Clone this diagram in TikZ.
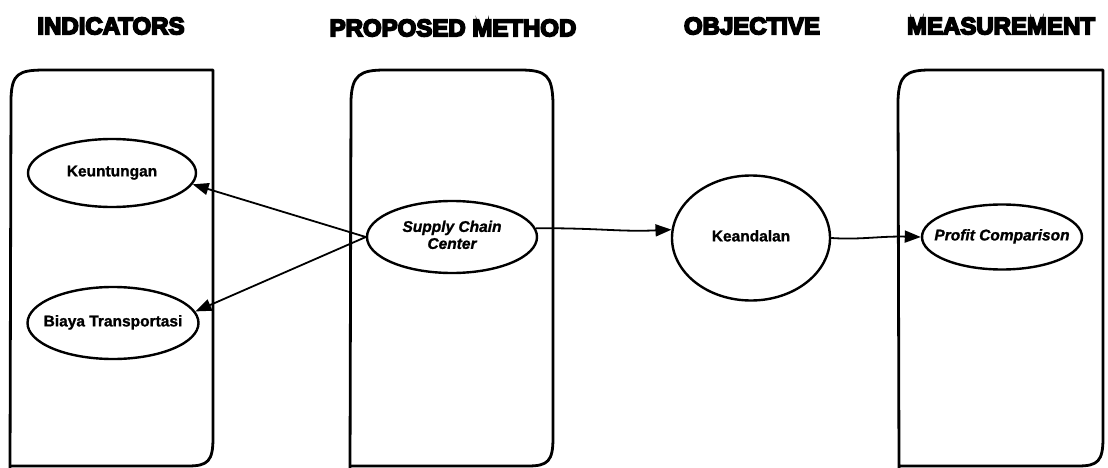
\documentclass[tikz,border=0pt]{standalone}
\usepackage{fontspec}
\setmainfont{Liberation Sans}
\newfontfamily\titlefont{Liberation Sans}[UprightFont={* Bold}, FakeBold=7]
\newfontfamily\labelfont{Liberation Sans}[UprightFont={* Bold}, ItalicFont={* Bold Italic}, FakeBold=1.2]
\usetikzlibrary{shapes.geometric,arrows.meta}
\newcommand{\ovaltext}[1]{\makebox[0pt]{\begin{tabular}{@{}c@{}}#1\end{tabular}}}
\begin{document}
\begin{tikzpicture}[x=1pt,y=-1pt,
  boxline/.style={line width=2.8pt, line join=round, line cap=round},
  oval/.style={ellipse, draw, line width=2.4pt, inner sep=0pt, font=\labelfont\fontsize{15.5}{17}\selectfont},
  ital/.style={font=\labelfont\itshape\fontsize{15.5}{17}\selectfont},
  heading/.style={font=\titlefont\fontsize{24}{28}\selectfont, inner sep=0pt},
  conn/.style={line width=1.8pt, -{Triangle[length=16pt,width=12pt]}}]
\useasboundingbox (0,0) rectangle (1108,468);
% headings
\node[heading] (h1) at (111,26) {INDICATORS};
\node[heading] (h2) at (453,28) {PROPOSED METHOD};
\node[heading] (h3) at (752,26) {OBJECTIVE};
\node[heading] (h4) at (1001,26) {MEASUREMENT};
% boxes
\draw[boxline] (10,470) -- (11,98) .. controls (12,74) and (18,70) .. (45,70) -- (213,70) -- (213,438) .. controls (213,461) and (208,466) .. (188,466) -- (12,466);
\draw[boxline] (350,470) -- (351,100) .. controls (352,75) and (360,70) .. (385,70) -- (520,70) .. controls (547,70) and (552,76) .. (553,102) -- (553,438) .. controls (553,461) and (548,466) .. (528,466) -- (352,466);
\draw[boxline] (899,470) -- (898,100) .. controls (899,76) and (905,70) .. (930,70) -- (1103,70) -- (1103,438) .. controls (1103,461) and (1098,466) .. (1078,466) -- (900,466);
% nodes
\node[oval, minimum width=168pt, minimum height=68pt] (k) at (112,173) {\ovaltext{Keuntungan}};
\node[oval, minimum width=171pt, minimum height=72pt] (b) at (113,323) {\ovaltext{Biaya Transportasi}};
\node[oval, ital, minimum width=170pt, minimum height=72pt] (sc) at (452,237) {\ovaltext{Supply Chain\\Center}};
\node[oval, minimum width=158pt, minimum height=125pt] (kd) at (751,238) {\ovaltext{Keandalan}};
\node[oval, ital, minimum width=160pt, minimum height=65pt] (pc) at (1002,237) {\ovaltext{Profit Comparison}};
% connectors
\draw[conn] (sc.west) -- (k.-8);
\draw[conn] (sc.west) -- (b.8);
\draw[conn] (sc.6) .. controls (600,228) and (620,232) .. (kd.174);
\draw[conn] (kd.east) .. controls (860,240) and (880,236) .. (pc.west);
\end{tikzpicture}
\end{document}
